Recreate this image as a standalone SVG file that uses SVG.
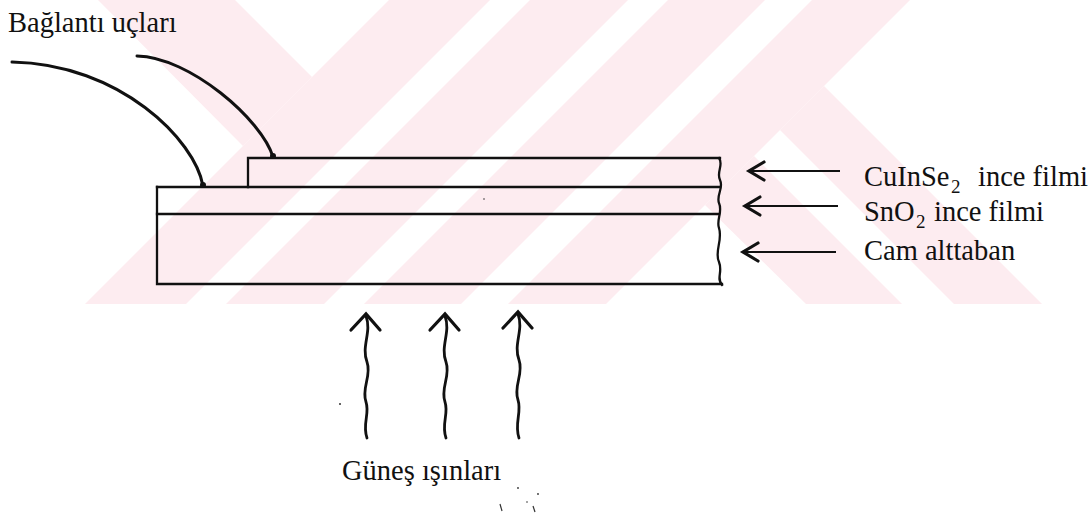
<svg xmlns="http://www.w3.org/2000/svg" width="1092" height="519" viewBox="0 0 1092 519">
  <style>
    .wm{fill:#fdecf0;stroke:none}
    .ln{stroke:#111;fill:none;stroke-width:2.3;stroke-linecap:square}
    .wire{stroke:#111;fill:none;stroke-width:3;stroke-linecap:round}
    .shaft{stroke:#111;fill:none;stroke-width:2.2}
    .head{stroke:#111;fill:none;stroke-width:3.2;stroke-linecap:round;stroke-linejoin:miter}
    .ray{stroke:#111;fill:none;stroke-width:2.8;stroke-linecap:round}
    .dot{fill:#111}
    .speck{fill:#333}
    text{font-family:"Liberation Serif","Times New Roman",serif;font-size:28.5px;fill:#111}
    .sub{font-size:19px}
  </style>

  <g id="watermark">
    <polygon class="wm" points="98,0 235,0 312,77 243,146"/>
    <polygon class="wm" points="389,0 490,0 186,304 85,304"/>
    <polygon class="wm" points="530,0 628,0 324,304 226,304"/>
    <polygon class="wm" points="668,0 765,0 461,304 364,304"/>
    <polygon class="wm" points="812,0 910,0 606,304 508,304"/>
    <polygon class="wm" points="824,86 1042,304 954,304 780,130"/>
    <polygon class="wm" points="754,156 902,304 806,304 705,205"/>
  </g>

  <g id="layer-stack">
    <path class="ln" d="M248,187 V158 H720"/>
    <path class="ln" d="M157,187 H720"/>
    <path class="ln" d="M157,214 H719"/>
    <path class="ln" d="M157,187 V284 H722"/>
    <path class="ln" d="M719,158 C724,165 716,172 720,180 C724,188 716,195 719,203 C723,212 716,220 719,228 C723,240 714,252 719,262 C723,272 716,278 722,285"/>
    <circle class="speck" cx="484" cy="199" r="0.8"/>
  </g>

  <g id="label-baglanti">
    <text x="8" y="32">Bağlantı uçları</text>
  </g>
  <g id="label-cuinse">
    <text x="864" y="186">CuInSe</text>
    <text class="sub" x="951" y="193">2</text>
    <text x="978" y="186">ince filmi</text>
  </g>
  <g id="label-sno2">
    <text x="864" y="221">SnO</text>
    <text class="sub" x="916" y="228">2</text>
    <text x="934" y="221">ince filmi</text>
  </g>
  <g id="label-cam">
    <text x="864" y="260">Cam alttaban</text>
  </g>
  <g id="label-gunes">
    <text x="342" y="480">Güneş ışınları</text>
  </g>

  <g id="connectors">
    <path class="wire" d="M12,62 C120,64 195,140 203,186"/>
    <circle class="dot" cx="203" cy="185" r="3"/>
    <path class="wire" d="M137,56 C190,57 262,120 273,157"/>
    <circle class="dot" cx="273" cy="156" r="3"/>

    <path class="shaft" d="M840,171 H750"/>
    <path class="head" d="M764,162 L749,171 L764,180"/>
    <path class="shaft" d="M838,206 H746"/>
    <path class="head" d="M760,197 L745,206 L760,215"/>
    <path class="shaft" d="M836,252 H744"/>
    <path class="head" d="M758,243 L743,252 L758,261"/>

    <path class="ray" d="M366,316 C372,332 361,346 367,362 C372,376 361,388 366,402 C370,414 362,424 367,438"/>
    <path class="head" d="M351,330 L366,314 L380,330"/>
    <path class="ray" d="M445,316 C451,332 440,346 446,362 C451,376 440,388 445,402 C449,414 441,424 446,438"/>
    <path class="head" d="M430,330 L445,314 L459,330"/>
    <path class="ray" d="M518,314 C524,330 513,344 519,360 C524,374 513,386 518,400 C522,412 514,424 519,438"/>
    <path class="head" d="M503,328 L518,312 L532,328"/>
  </g>

  <g id="specks">
    <circle class="speck" cx="340" cy="404" r="1"/>
    <circle class="speck" cx="518" cy="488" r="0.9"/>
    <circle class="speck" cx="538" cy="494" r="0.9"/>
    <circle class="speck" cx="527" cy="502" r="0.8"/>
    <path d="M500,504 L502,511" stroke="#333" stroke-width="1.2"/>
    <path d="M533,506 L535,512" stroke="#333" stroke-width="1.2"/>
  </g>
</svg>
